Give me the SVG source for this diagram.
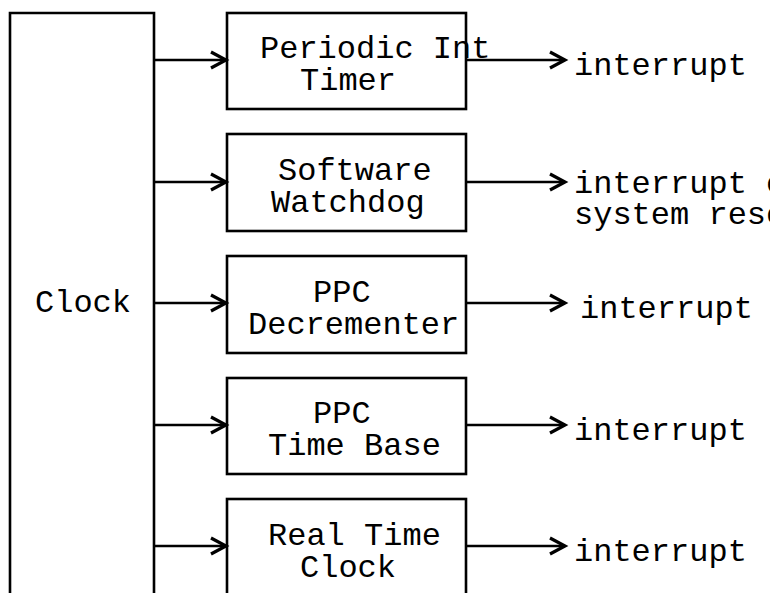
<svg xmlns="http://www.w3.org/2000/svg" width="770" height="593" viewBox="0 0 770 593">
<defs>
<marker id="chev" markerUnits="userSpaceOnUse" markerWidth="24" markerHeight="24" viewBox="-20 -12 24 24" refX="0" refY="0" orient="auto" overflow="visible">
<path d="M-15,-8 L0,0 L-15,8" fill="none" stroke="#000" stroke-width="3.2" stroke-linejoin="miter"/>
</marker>
</defs>
<style>
text{font-family:"Liberation Mono","Courier New",monospace;font-size:32px;fill:#000}
.box{fill:#fff;stroke:#000;stroke-width:2.6}
.wire{fill:none;stroke:#000;stroke-width:2.6;marker-end:url(#chev)}
.bus{fill:none;stroke:#000;stroke-width:2.6}
</style>
<rect width="770" height="593" fill="#fff"/>
<g id="clock">
<path class="bus" d="M10,600 V13 H154 V600"/>
<text x="35" y="312">Clock</text>
</g>
<g id="pit">
<rect class="box" x="227" y="13" width="239" height="96"/>
<text x="260" y="58">Periodic Int</text>
<text x="300" y="90">Timer</text>
</g>
<g id="swd">
<rect class="box" x="227" y="134" width="239" height="97"/>
<text x="278" y="180">Software</text>
<text x="271" y="212">Watchdog</text>
</g>
<g id="dec">
<rect class="box" x="227" y="256" width="239" height="97"/>
<text x="313" y="302">PPC</text>
<text x="248" y="334">Decrementer</text>
</g>
<g id="tb">
<rect class="box" x="227" y="378" width="239" height="96"/>
<text x="313" y="423">PPC</text>
<text x="268" y="455">Time Base</text>
</g>
<g id="rtc">
<rect class="box" x="227" y="499" width="239" height="110"/>
<text x="268" y="545">Real Time</text>
<text x="300" y="577">Clock</text>
</g>
<g id="outputs">
<text x="574" y="75">interrupt</text>
<text x="574" y="193">interrupt or</text>
<text x="574" y="224">system reset</text>
<text x="580" y="318">interrupt</text>
<text x="574" y="440">interrupt</text>
<text x="574" y="561">interrupt</text>
</g>
<g id="connectors">
<path class="wire" d="M153,60 H226"/>
<path class="wire" d="M153,182 H226"/>
<path class="wire" d="M153,303 H226"/>
<path class="wire" d="M153,425 H226"/>
<path class="wire" d="M153,546 H226"/>
<path class="wire" d="M466,60 H565"/>
<path class="wire" d="M466,182 H565"/>
<path class="wire" d="M466,303 H565"/>
<path class="wire" d="M466,425 H565"/>
<path class="wire" d="M466,546 H565"/>
</g>
</svg>
